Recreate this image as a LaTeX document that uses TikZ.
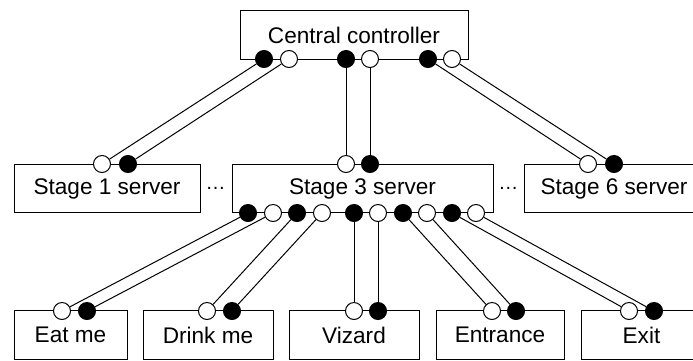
\documentclass[tikz,border=0pt]{standalone}
\usepackage{fontspec}
\setmainfont{Liberation Sans}
\begin{document}
\begin{tikzpicture}[x=1pt,y=-1pt,
  box/.style={draw, line width=1pt, inner sep=0pt, minimum height=48.5pt, font=\fontsize{22.6}{27}\selectfont},
  port/.style={circle, draw, line width=1pt, minimum size=17pt, inner sep=0pt},
  portB/.style={port, fill=black},
  portW/.style={port, fill=white},
  wire/.style={line width=1pt},
  ellip/.style={anchor=base, inner sep=0pt, font=\fontsize{20}{24}\selectfont}]
\clip (0,0) rectangle (693,360);
% boxes
\node[box, minimum width=228pt] (cc) at (354,35) {Central controller};
\node[box, minimum width=186pt] (s1) at (107,188.5) {Stage 1 server};
\node[box, minimum width=261pt] (s3) at (362.5,188.5) {Stage 3 server};
\node[box, minimum width=180pt] (s6) at (614,188.5) {Stage 6 server};
\node[box, minimum width=113pt] (eat) at (70.5,335) {Eat me};
\node[box, minimum width=130pt] (drink) at (208,335) {Drink me};
\node[box, minimum width=130pt] (viz) at (354,335) {Vizard};
\node[box, minimum width=128pt] (ent) at (500,335) {Entrance};
\node[box, minimum width=121pt] (exit) at (641.5,335) {Exit};
\node[ellip] (d1) at (215.7,189) {…};
\node[ellip] (d2) at (508.3,189) {…};
% ports on central controller
\node[portB] (cb1) at (264,59) {};
\node[portW] (cw1) at (289,59) {};
\node[portB] (cb2) at (346,59) {};
\node[portW] (cw2) at (370,59) {};
\node[portB] (cb3) at (428,59) {};
\node[portW] (cw3) at (452,59) {};
% ports on stage servers (top)
\node[portW] (s1w) at (102,164) {};
\node[portB] (s1b) at (128,164) {};
\node[portW] (s3w) at (346,164) {};
\node[portB] (s3b) at (370,164) {};
\node[portW] (s6w) at (588,164) {};
\node[portB] (s6b) at (614,164) {};
% ports on stage 3 (bottom)
\node[portB] (pb1) at (248,213) {};
\node[portW] (pw1) at (273,213) {};
\node[portB] (pb2) at (297,213) {};
\node[portW] (pw2) at (322,213) {};
\node[portB] (pb3) at (354,213) {};
\node[portW] (pw3) at (378,213) {};
\node[portB] (pb4) at (403,213) {};
\node[portW] (pw4) at (427,213) {};
\node[portB] (pb5) at (452,213) {};
\node[portW] (pw5) at (476,213) {};
% ports on bottom boxes
\node[portW] (ew) at (62,311) {};
\node[portB] (eb) at (87,311) {};
\node[portW] (dw) at (207,311) {};
\node[portB] (db) at (232,311) {};
\node[portW] (vw) at (354,311) {};
\node[portB] (vb) at (378,311) {};
\node[portW] (nw) at (492,311) {};
\node[portB] (nb) at (516,311) {};
\node[portW] (xw) at (629,311) {};
\node[portB] (xb) at (654,311) {};
% wires
\draw[wire] (cb1) -- (s1w);
\draw[wire] (cw1) -- (s1b);
\draw[wire] (cb2) -- (s3w);
\draw[wire] (cw2) -- (s3b);
\draw[wire] (cb3) -- (s6w);
\draw[wire] (cw3) -- (s6b);
\draw[wire] (pb1) -- (ew);
\draw[wire] (pw1) -- (eb);
\draw[wire] (pb2) -- (dw);
\draw[wire] (pw2) -- (db);
\draw[wire] (pb3) -- (vw);
\draw[wire] (pw3) -- (vb);
\draw[wire] (pb4) -- (nw);
\draw[wire] (pw4) -- (nb);
\draw[wire] (pb5) -- (xw);
\draw[wire] (pw5) -- (xb);
\end{tikzpicture}
\end{document}
